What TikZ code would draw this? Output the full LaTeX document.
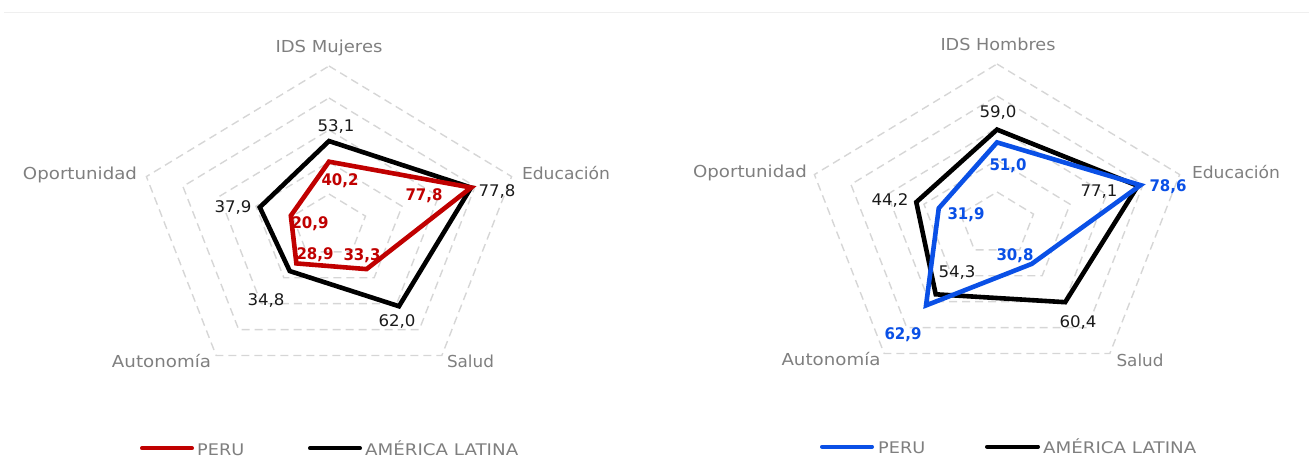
\documentclass[tikz,border=0pt]{standalone}
\usepackage{fontspec}
\setmainfont{DejaVu Sans}
\usepackage{graphicx}
\definecolor{gridc}{HTML}{D6D6D6}
\definecolor{axlab}{HTML}{7F7F7F}
\definecolor{perured}{HTML}{C00000}
\definecolor{perublue}{HTML}{0A50E6}
\definecolor{topline}{HTML}{EFEFEF}
\definecolor{valc}{HTML}{1A1A1A}
\newcommand\fitw[2]{\resizebox{#1pt}{\height}{#2}}
\tikzset{
  gridline/.style={draw=gridc, line width=1.4pt, dash pattern=on 8pt off 5pt},
  serie/.style={line width=4.6pt, line join=miter},
  axlabel/.style={text=axlab, anchor=base, inner sep=0pt, font=\fontsize{16.5}{19}\selectfont},
  val/.style={anchor=base, inner sep=0pt, text=valc, font=\fontsize{16}{19}\selectfont},
  bval/.style={anchor=base, inner sep=0pt, font=\fontsize{16}{19}\selectfont\bfseries},
  legline/.style={line width=4pt, line cap=round},
  legtext/.style={text=axlab, anchor=base west, inner sep=0pt, font=\fontsize{16}{19}\selectfont},
}
\begin{document}
\begin{tikzpicture}[x=1pt,y=-1pt]
\useasboundingbox (0,0) rectangle (1309,464);
\draw[topline, line width=1pt] (4,12) -- (1309,12);

% ---------- left chart ----------
\begin{scope}[shift={(329,226)}, xscale=1.2, yscale=-1]
  \foreach \r in {20,40,60,80,100}{
    \draw[gridline] (90:{\r*1.6}) -- (18:{\r*1.6}) -- (-54:{\r*1.6}) -- (-126:{\r*1.6}) -- (162:{\r*1.6}) -- cycle;
  }
  \draw[serie, black] (90:{53.1*1.6}) -- (18:{77.8*1.6}) -- (-54:{62.0*1.6}) -- (-126:{34.8*1.6}) -- (162:{37.9*1.6}) -- cycle;
  \draw[serie, perured] (90:{40.2*1.6}) -- (18:{77.8*1.6}) -- (-54:{33.3*1.6}) -- (-126:{28.9*1.6}) -- (162:{20.9*1.6}) -- cycle;
\end{scope}
\node[axlabel] (lA) at (329,52) {\fitw{107}{IDS Mujeres}};
\node[axlabel] (lB) at (566,179) {\fitw{88}{Educación}};
\node[axlabel] (lC) at (470.5,367) {\fitw{47}{Salud}};
\node[axlabel] (lD) at (161.5,367) {\fitw{99}{Autonomía}};
\node[axlabel] (lE) at (80,179.5) {\fitw{114}{Oportunidad}};

\node[val] (lv1) at (336,131.7) {\fitw{37}{53,1}};
\node[val] (lv2) at (497,196) {\fitw{37}{77,8}};
\node[val] (lv3) at (397,326.7) {\fitw{37}{62,0}};
\node[val] (lv4) at (266,305) {\fitw{37}{34,8}};
\node[val] (lv5) at (233,212) {\fitw{37}{37,9}};
\node[bval, text=perured] (lp1) at (340,185) {\fitw{37}{40,2}};
\node[bval, text=perured] (lp2) at (424,200.7) {\fitw{37}{77,8}};
\node[bval, text=perured] (lp3) at (362,260.7) {\fitw{37}{33,3}};
\node[bval, text=perured] (lp4) at (315,259.3) {\fitw{37}{28,9}};
\node[bval, text=perured] (lp5) at (310,228.3) {\fitw{37}{20,9}};

\coordinate (lg1a) at (142,448.3);
\coordinate (lg1b) at (192,448.3);
\coordinate (lg2a) at (310,448.3);
\coordinate (lg2b) at (360,448.3);
\draw[legline, perured] (lg1a) -- (lg1b);
\draw[legline, black] (lg2a) -- (lg2b);
\node[legtext] (lt1) at (197,455) {\fitw{47}{PERU}};
\node[legtext] (lt2) at (365,455) {\fitw{153}{AMÉRICA LATINA}};

% ---------- right chart ----------
\begin{scope}[shift={(997,224)}, xscale=1.2, yscale=-1]
  \foreach \r in {20,40,60,80,100}{
    \draw[gridline] (90:{\r*1.6}) -- (18:{\r*1.6}) -- (-54:{\r*1.6}) -- (-126:{\r*1.6}) -- (162:{\r*1.6}) -- cycle;
  }
  \draw[serie, black] (90:{59.0*1.6}) -- (18:{77.1*1.6}) -- (-54:{60.4*1.6}) -- (-126:{54.3*1.6}) -- (162:{44.2*1.6}) -- cycle;
  \draw[serie, perublue] (90:{51.0*1.6}) -- (18:{78.6*1.6}) -- (-54:{30.8*1.6}) -- (-126:{62.9*1.6}) -- (162:{31.9*1.6}) -- cycle;
\end{scope}
\node[axlabel] (rA) at (998,50) {\fitw{115}{IDS Hombres}};
\node[axlabel] (rB) at (1236,178.3) {\fitw{88}{Educación}};
\node[axlabel] (rC) at (1140,366) {\fitw{47}{Salud}};
\node[axlabel] (rD) at (831,365.7) {\fitw{99}{Autonomía}};
\node[axlabel] (rE) at (750,177.7) {\fitw{114}{Oportunidad}};

\node[val] (rv1) at (998,117.3) {\fitw{37}{59,0}};
\node[val] (rv2) at (1099,196.7) {\fitw{37}{77,1}};
\node[val] (rv3) at (1078,327.7) {\fitw{37}{60,4}};
\node[val] (rv4) at (957,277.3) {\fitw{37}{54,3}};
\node[val] (rv5) at (890,205.7) {\fitw{37}{44,2}};
\node[bval, text=perublue] (rp1) at (1008,170.7) {\fitw{37}{51,0}};
\node[bval, text=perublue] (rp2) at (1168,191.7) {\fitw{37}{78,6}};
\node[bval, text=perublue] (rp3) at (1015,260.7) {\fitw{37}{30,8}};
\node[bval, text=perublue] (rp4) at (903,339) {\fitw{37}{62,9}};
\node[bval, text=perublue] (rp5) at (966,219.3) {\fitw{37}{31,9}};

\coordinate (rg1a) at (822,446.7);
\coordinate (rg1b) at (872,446.7);
\coordinate (rg2a) at (987,446.7);
\coordinate (rg2b) at (1038,446.7);
\draw[legline, perublue] (rg1a) -- (rg1b);
\draw[legline, black] (rg2a) -- (rg2b);
\node[legtext] (rt1) at (878,453.3) {\fitw{47}{PERU}};
\node[legtext] (rt2) at (1043,453.3) {\fitw{153}{AMÉRICA LATINA}};
\end{tikzpicture}
\end{document}
